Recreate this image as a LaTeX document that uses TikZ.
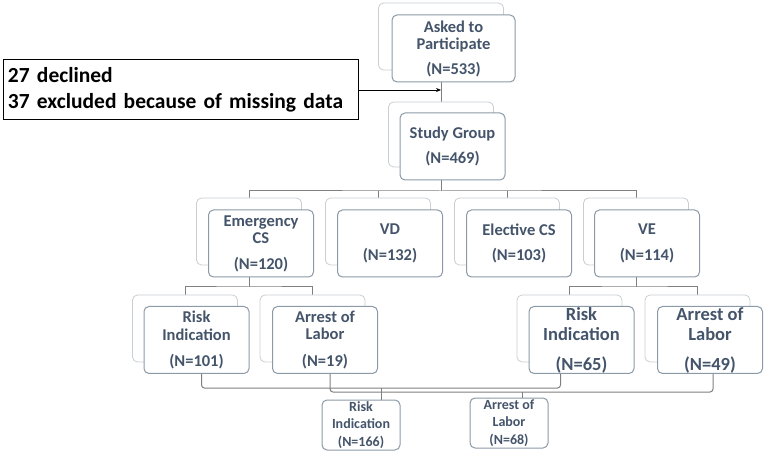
\documentclass[tikz,border=0pt]{standalone}
\usepackage{fontspec}
\setmainfont{Carlito}
\usetikzlibrary{arrows.meta,backgrounds}
\definecolor{txtblue}{HTML}{44546A}
\definecolor{frontgray}{HTML}{8C99A6}
\definecolor{backgray}{HTML}{C8CED4}
\definecolor{linegray}{HTML}{7F7F7F}
\tikzset{
  back/.style={draw=backgray, line width=.8pt, fill=white, rounded corners=5pt,
    minimum width=105pt, minimum height=67pt, inner sep=0pt},
  front/.style={draw=frontgray, line width=1pt, fill=white, rounded corners=5pt,
    minimum width=105pt, minimum height=67pt, inner sep=0pt, align=center,
    text=txtblue, font=\bfseries\fontsize{16.5}{17.5}\selectfont},
  big/.style={font=\bfseries\fontsize{18.5}{20}\selectfont},
  small/.style={minimum width=78pt, minimum height=50pt,
    font=\bfseries\fontsize{14}{17.5}\selectfont},
  lnk/.style={draw=linegray, line width=1pt},
  brc/.style={draw=linegray, line width=1pt, rounded corners=3pt}
}
\begin{document}
\begin{tikzpicture}[x=1pt,y=-1pt]
\useasboundingbox (0,0) rectangle (766,454);

% top
\node[back, minimum width=125pt] (askb) at (441,36.5) {};
\node[front, minimum width=123pt] (ask) at (453.5,48.5) {Asked to\\Participate\\[7pt](N=533)};
\node[back, minimum height=65pt] (studyb) at (441,134.5) {};
\node[front] (study) at (452.5,146.5) {Study Group\\[7pt](N=469)};

\node[draw=black, line width=1pt, minimum width=355pt, minimum height=60pt,
  text width=345pt, align=left, font=\bfseries\fontsize{21.5}{26}\selectfont]
  (excl) at (180.5,90) {27 declined\\37 excluded because of missing data};

% delivery groups
\node[back] (emb) at (249,231.5) {};
\node[front] (em) at (261,243.5) {Emergency\\CS\\[8pt](N=120)};
\node[back] (vdb) at (378,231.5) {};
\node[front] (vd) at (390,243.5) {VD\\[8pt](N=132)};
\node[back] (elb) at (507,231.5) {};
\node[front] (el) at (519,243.5) {Elective CS\\[8pt](N=103)};
\node[back] (veb) at (636,231.5) {};
\node[front] (ve) at (647,243.5) {VE\\[8pt](N=114)};

% indications
\node[back] (r101b) at (185,328.5) {};
\node[front] (r101) at (196.5,340) {Risk\\Indication\\[9pt](N=101)};
\node[back] (a19b) at (312.5,328.5) {};
\node[front] (a19) at (325,340) {Arrest of\\Labor\\[9pt](N=19)};
\node[back] (r65b) at (569.5,328.5) {};
\node[front, big] (r65) at (581.5,340) {Risk\\Indication\\[10pt](N=65)};
\node[back] (a49b) at (697.5,328.5) {};
\node[front, big] (a49) at (710,340) {Arrest of\\Labor\\[10pt](N=49)};

% totals
\node[front, small] (r166) at (361,425) {Risk\\Indication\\(N=166)};
\node[front, small] (a68) at (509,423) {Arrest of\\Labor\\(N=68)};

\coordinate (bar1) at (441,191);
\coordinate (bar2) at (441,287);
\coordinate (br1) at (381,388);
\coordinate (br2) at (522,392);

\begin{pgfonlayer}{background}
\draw[lnk] (askb.south) -- (studyb.north);
\draw[lnk] (studyb.south) -- (studyb.south |- bar1);
\draw[lnk] (emb.north) |- (bar1) -| (veb.north);
\draw[lnk] (vdb.north) -- (vdb.north |- bar1);
\draw[lnk] (elb.north) -- (elb.north |- bar1);
\draw[lnk] (emb.south) -- (emb.south |- bar2);
\draw[lnk] (r101b.north) |- (emb.south |- bar2) -| (a19b.north);
\draw[lnk] (veb.south) -- (veb.south |- bar2);
\draw[lnk] (r65b.north) |- (veb.south |- bar2) -| (a49b.north);
\end{pgfonlayer}

\draw[-{Stealth[length=5pt,width=4pt]}, line width=.8pt] (excl.east) -- (excl.east -| askb.south);

\draw[brc] ([xshift=5pt]r101.south) |- (br1) -| ([xshift=-21pt]r65.south);
\draw[brc] (br1) -- (br1 |- r166.north);
\draw[brc] ([xshift=5pt]a19.south) |- (br2) -| ([xshift=3pt]a49.south);
\draw[brc] (br2) -- (br2 |- a68.north);
\end{tikzpicture}
\end{document}
